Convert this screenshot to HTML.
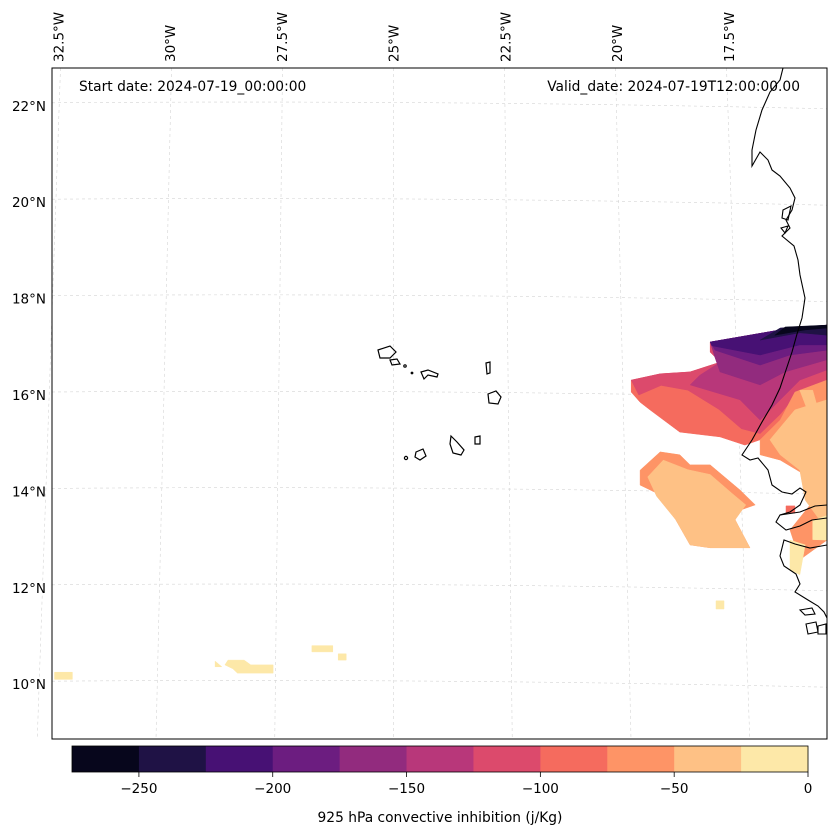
<!DOCTYPE html>
<html><head><meta charset="utf-8"><style>
html,body{margin:0;padding:0;background:#fff}
svg{display:block;font-family:"DejaVu Sans","Liberation Sans",sans-serif}
</style></head><body>
<svg id="chart" width="837" height="836" viewBox="0 0 837 836" xmlns="http://www.w3.org/2000/svg">
<defs><clipPath id="mapclip"><rect x="52" y="68" width="775" height="671"/></clipPath></defs>
<rect x="0" y="0" width="837" height="836" fill="#fff"/>
<g id="grid"></g>
<g id="fill" clip-path="url(#mapclip)"></g>
<g clip-path="url(#mapclip)" fill="none" stroke="#000" stroke-width="1.1">
<path d="M783,68 L780,80 L770,92 L762,110 L756,130 L752,150 L752,166 L760,152 L768,160 L772,170 L780,176 L790,188 L795,198 L792,210 L786,220 L790,228 L782,236 L794,246 L798,260 L800,275 L805,298 L802,318 L797,334 L792,352 L786,370 L780,388 L772,405 L762,422 L752,440 L742,455 L750,460 L758,458 L768,470 L772,485 L782,492 L792,494 L800,488 L806,492 L800,505 L790,512 L780,515 L776,522 L786,530 L800,526 L812,520 L827,518 M827,545 L810,548 L795,544 L784,540 L780,556 L784,566 L796,574 L800,584 L795,592 L808,600 L818,606 L824,612 L827,618"/>
<path d="M780,515 L800,512 L815,506 L827,505"/>
<path d="M800,610 L812,608 L815,614 L805,615 Z M806,624 L816,622 L818,632 L808,634 Z M818,626 L826,624 L826,634 L818,634 Z M783,210 L791,206 L788,220 L782,218 Z M781,228 L788,226 L785,233 Z"/>
</g>
<g fill="none" stroke="#000" stroke-width="1.2">
<path d="M378,350 L390,346 L396,352 L390,358 L380,358 Z"/>
<path d="M390,360 L397,359 L400,364 L392,365 Z"/>
<circle cx="405" cy="366" r="1.2"/><circle cx="412" cy="373" r="0.8"/>
<path d="M421,372 L428,370 L438,374 L437,377 L428,375 L424,379 Z"/>
<path d="M486,363 L490,362 L490,373 L487,374 Z"/>
<path d="M488,394 L496,391 L501,397 L498,404 L489,403 Z"/>
<path d="M451,436 L457,442 L464,450 L461,455 L453,453 L450,444 Z"/>
<path d="M475,437 L480,436 L480,444 L475,444 Z"/>
<path d="M416,452 L423,449 L426,456 L420,460 L415,457 Z"/>
<circle cx="406" cy="458" r="1.6"/>
</g>
<rect x="52" y="68" width="775" height="671" fill="none" stroke="#000" stroke-width="1"/>
<g id="latlabels" font-size="13.5" fill="#000" text-anchor="end"></g>
<g id="lonlabels" font-size="13.5" fill="#000"></g>
<text x="79" y="91" font-size="13.8">Start date: 2024-07-19_00:00:00</text>
<text x="800" y="91" font-size="13.8" text-anchor="end">Valid_date: 2024-07-19T12:00:00.00</text>
<g id="cbar"></g>
<text x="440" y="822" font-size="13.8" text-anchor="middle">925 hPa convective inhibition (j/Kg)</text>
</svg>
<script>
const binEdges=[-275,-250,-225,-200,-175,-150,-125,-100,-75,-50,-25,0];
const binColors=["#07061c","#1f1245","#471174","#6c1d80","#922b7e","#b8377a","#dc4a6c","#f56b5e","#fe9466","#fec185","#fde8a8"];
const cbTicks=[-250,-200,-150,-100,-50,0];
const latTicks=[10,12,14,16,18,20,22];
const lonTicks=[-32.5,-30,-27.5,-25,-22.5,-20,-17.5];
// filled regions: value (bin lower edge) and polygon as [lon,lat] pairs
const regionValues=[-100,-125,-150,-175,-200,-225,-250,-275,-75,-50,-50,-50,-75,-50,-25,-25,-25,-25,-25,-25,-25,-25,-100];
const regionPolys=[
[[-19.67,16.31],[-19.67,16.06],[-19.47,15.85],[-19.25,15.69],[-18.58,15.23],[-17.68,15.13],[-17.12,14.96],[-16.78,15.07],[-16.33,15.48],[-15.89,16.1],[-15.28,16.31],[-15.28,17.45],[-15.77,17.39],[-16.33,17.35],[-16.78,17.14],[-17.9,17.1],[-17.9,16.89],[-17.68,16.68],[-18.35,16.48],[-19.02,16.44]],
[[-19.67,16.31],[-19.5,16.0],[-19.0,16.2],[-18.4,16.1],[-17.7,15.7],[-17.2,15.3],[-16.78,15.2],[-16.33,15.6],[-15.89,16.1],[-15.28,16.31],[-15.28,17.45],[-16.33,17.35],[-17.9,17.1],[-17.9,16.89],[-17.68,16.68],[-18.35,16.48],[-19.02,16.44]],
[[-18.35,16.21],[-17.23,15.9],[-16.78,15.48],[-16.33,15.9],[-15.89,16.31],[-15.28,16.52],[-15.28,17.45],[-16.33,17.35],[-17.9,17.1],[-17.68,16.68],[-18.13,16.41]],
[[-17.68,16.48],[-16.78,16.21],[-16.22,16.48],[-15.28,16.73],[-15.28,17.45],[-16.33,17.35],[-17.9,17.1],[-17.79,16.77]],
[[-17.79,16.93],[-16.78,16.62],[-16.11,16.83],[-15.28,16.93],[-15.28,17.45],[-16.33,17.35],[-17.9,17.1]],
[[-17.86,17.02],[-16.78,16.83],[-15.89,17.04],[-15.28,17.04],[-15.28,17.45],[-16.33,17.35],[-17.9,17.1]],
[[-16.78,17.14],[-15.89,17.29],[-15.28,17.24],[-15.28,17.45],[-16.33,17.39]],
[[-16.45,17.24],[-15.77,17.35],[-15.28,17.39],[-15.28,17.45],[-16.22,17.41]],
[[-16.78,15.07],[-16.33,15.48],[-16.0,16.06],[-15.28,16.31],[-15.28,12.99],[-15.89,12.58],[-16.11,13.2],[-15.66,13.72],[-15.77,14.34],[-16.33,14.65],[-16.78,14.76]],
[[-16.56,15.07],[-16.0,15.69],[-15.28,15.9],[-15.28,13.2],[-15.77,13.82],[-15.89,14.44],[-16.33,14.76]],
[[-16.22,15.23],[-15.89,15.69],[-15.55,15.48],[-15.66,14.86],[-16.11,14.76]],
[[-15.89,16.1],[-15.6,16.1],[-15.45,15.6],[-15.6,15.4]],
[[-19.47,14.44],[-19.02,14.82],[-18.58,14.76],[-18.35,14.55],[-17.9,14.55],[-17.23,14.03],[-16.89,13.72],[-17.23,13.61],[-17.34,13.41],[-17.01,12.83],[-17.9,12.83],[-18.35,12.89],[-18.67,13.41],[-19.02,13.93],[-19.47,14.13]],
[[-19.3,14.3],[-18.95,14.65],[-18.4,14.45],[-17.9,14.35],[-17.4,13.95],[-17.1,13.72],[-17.34,13.41],[-17.01,12.83],[-17.9,12.83],[-18.35,12.89],[-18.67,13.41],[-19.1,13.9]],
[[-15.6,13.4],[-15.28,13.5],[-15.28,12.99],[-15.6,13.0]],
[[-16.11,12.99],[-15.77,12.89],[-15.89,12.27],[-16.11,12.38]],
[[-17.77,11.73],[-17.59,11.73],[-17.59,11.56],[-17.77,11.56]],
[[-26.83,10.8],[-26.36,10.8],[-26.36,10.67],[-26.83,10.67]],
[[-26.24,10.63],[-26.06,10.63],[-26.06,10.5],[-26.24,10.5]],
[[-28.71,10.5],[-28.35,10.5],[-28.2,10.4],[-27.7,10.4],[-27.7,10.23],[-28.5,10.23],[-28.6,10.32],[-28.78,10.4]],
[[-29.0,10.48],[-28.85,10.36],[-29.0,10.36]],
[[-32.6,10.25],[-32.2,10.25],[-32.2,10.1],[-32.6,10.1]],
[[-16.2,13.7],[-16.0,13.7],[-16.0,13.55],[-16.2,13.55]]
];
const NS="http://www.w3.org/2000/svg";
function px(lon){return 728+(lon+17.5)*44.6;}
function py(lat){return 395-(lat-16)*48.2;}
function mk(tag,attrs,parent){const e=document.createElementNS(NS,tag);for(const k in attrs)e.setAttribute(k,attrs[k]);parent.appendChild(e);return e;}
function colorFor(v){for(let i=0;i<binEdges.length-1;i++){if(v>=binEdges[i]&&v<binEdges[i+1])return binColors[i];}return binColors[binColors.length-1];}
const grid=document.getElementById('grid');
lonTicks.forEach(l=>{
 const topX=px(l)-(l+25)*0.2, botX=px(l)+(l+25)*2.9;
 const ln=mk('line',{x1:topX,y1:68,x2:botX,y2:739,stroke:'#d4d4d4','stroke-width':0.6,'stroke-dasharray':'3,3'},grid);
 
 
});
latTicks.forEach(l=>{
 const ln=mk('path',{d:`M52,${py(l)-3} Q440,${py(l)-6} 827,${py(l)+3}`,fill:'none',stroke:'#d4d4d4','stroke-width':0.6,'stroke-dasharray':'3,3'},grid);
 
 
});
const fill=document.getElementById('fill');
regionPolys.forEach((poly,i)=>{
 const p=mk('polygon',{points:poly.map(q=>px(q[0]).toFixed(1)+','+py(q[1]).toFixed(1)).join(' '),fill:colorFor(regionValues[i]),stroke:colorFor(regionValues[i]),'stroke-width':0.5},fill);
 
 
});
const latG=document.getElementById('latlabels');
latTicks.forEach(l=>{
 const t=mk('text',{x:46,y:py(l)+5},latG);t.textContent=l+'°N';
 
 
});
const lonG=document.getElementById('lonlabels');
lonTicks.forEach(l=>{
 const x=px(l)+(l+25)*0.1+5;
 const t=mk('text',{x:x,y:62,transform:`rotate(-90 ${x} 62)`},lonG);t.textContent=(-l)+'°W';
 
 
});
const cb=document.getElementById('cbar');
const cx0=72,cx1=808;
function cbx(v){return cx0+(v-binEdges[0])/(binEdges[binEdges.length-1]-binEdges[0])*(cx1-cx0);}
binColors.forEach((c,i)=>{
 const r=mk('rect',{x:cbx(binEdges[i]),y:746,width:cbx(binEdges[i+1])-cbx(binEdges[i])+0.5,height:26,fill:c},cb);
 
 
});
mk('rect',{x:cx0,y:746,width:cx1-cx0,height:26,fill:'none',stroke:'#000','stroke-width':0.8},cb);
cbTicks.forEach(v=>{
 const tl=mk('line',{x1:cbx(v),y1:772,x2:cbx(v),y2:777,stroke:'#000','stroke-width':0.8},cb);
 
 
 const t=mk('text',{x:cbx(v),y:793,'font-size':13.5,'text-anchor':'middle'},cb);
 t.textContent=(v<0?'\u2212'+(-v):v);
 
 
});
</script>
</body></html>
